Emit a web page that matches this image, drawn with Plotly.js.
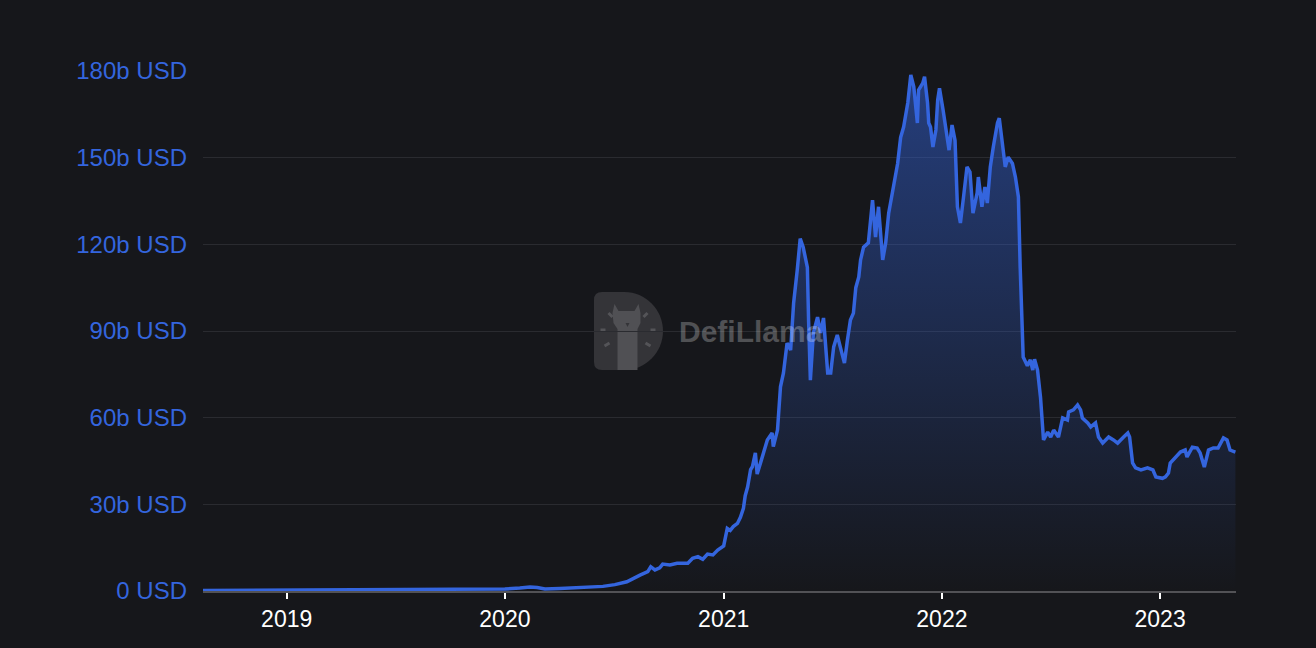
<!DOCTYPE html>
<html>
<head>
<meta charset="utf-8">
<script src="https://cdn.plot.ly/plotly-3.0.1.min.js"></script>
<style>
  html, body { margin: 0; padding: 0; background: #16171b; }
  #chart { width: 1316px; height: 648px; }
</style>
</head>
<body>
<div id="chart"></div>
<script>
// Total value locked (billions of USD)
const dates = [
  "2018-08-14","2018-10-23","2019-01-01","2019-03-14","2019-05-21","2019-07-10","2019-09-14","2019-11-04",
  "2020-01-01","2020-01-26","2020-02-12","2020-02-24","2020-03-08","2020-04-02","2020-05-05","2020-06-13",
  "2020-07-03","2020-07-23","2020-08-14","2020-08-27","2020-09-01","2020-09-08","2020-09-16","2020-09-21",
  "2020-10-03","2020-10-15","2020-11-02","2020-11-10","2020-11-19","2020-11-27","2020-12-05","2020-12-14",
  "2020-12-22","2021-01-01","2021-01-07","2021-01-12","2021-01-17","2021-01-24","2021-01-29","2021-02-03",
  "2021-02-06","2021-02-10","2021-02-15","2021-02-18","2021-02-23","2021-02-26","2021-03-05","2021-03-15",
  "2021-03-23","2021-03-25","2021-04-01","2021-04-06","2021-04-11","2021-04-17","2021-04-23","2021-04-28",
  "2021-05-04","2021-05-09","2021-05-14","2021-05-21","2021-05-23","2021-05-26","2021-05-31","2021-06-07",
  "2021-06-12","2021-06-17","2021-06-24","2021-06-29","2021-07-04","2021-07-10","2021-07-15","2021-07-22",
  "2021-07-27","2021-08-01","2021-08-06","2021-08-10","2021-08-15","2021-08-18","2021-08-23","2021-08-31",
  "2021-09-07","2021-09-09","2021-09-12","2021-09-17","2021-09-24","2021-09-29","2021-10-04","2021-10-11",
  "2021-10-19","2021-10-24","2021-10-29","2021-11-05","2021-11-10","2021-11-15","2021-11-21","2021-11-23",
  "2021-11-30","2021-12-03","2021-12-08","2021-12-10","2021-12-13","2021-12-17","2021-12-22","2021-12-25",
  "2021-12-28","2022-01-03","2022-01-10","2022-01-13","2022-01-18","2022-01-23","2022-01-27","2022-02-01",
  "2022-02-06","2022-02-12","2022-02-17","2022-02-22","2022-03-01","2022-03-03","2022-03-09","2022-03-14",
  "2022-03-18","2022-03-23","2022-03-28","2022-04-04","2022-04-07","2022-04-12","2022-04-17","2022-04-22",
  "2022-04-29","2022-05-04","2022-05-09","2022-05-12","2022-05-16","2022-05-17","2022-05-24","2022-05-29",
  "2022-06-02","2022-06-05","2022-06-10","2022-06-15","2022-06-20","2022-06-27","2022-07-02","2022-07-07",
  "2022-07-15","2022-07-22","2022-07-30","2022-08-01","2022-08-09","2022-08-16","2022-08-21","2022-08-24",
  "2022-09-02","2022-09-07","2022-09-15","2022-09-20","2022-09-27","2022-10-07","2022-10-15","2022-10-22",
  "2022-11-01","2022-11-08","2022-11-11","2022-11-16","2022-11-21","2022-11-30","2022-12-11","2022-12-20",
  "2022-12-25","2023-01-05","2023-01-10","2023-01-15","2023-01-18","2023-01-26","2023-02-04","2023-02-12",
  "2023-02-15","2023-02-24","2023-03-04","2023-03-09","2023-03-16","2023-03-23","2023-03-31","2023-04-08",
  "2023-04-17","2023-04-23","2023-04-28","2023-05-07"
];
const tvlBillions = [
  0.2,0.25,0.3,0.4,0.55,0.6,0.6,0.65,
  0.7,1.0,1.4,1.2,0.7,0.9,1.1,1.6,
  2.2,3.2,5.5,6.7,8.4,7.3,8.0,9.3,
  9.0,9.6,9.6,11.3,11.9,11.0,12.8,12.5,
  14.2,15.6,21.7,21.0,22.3,23.4,25.5,28.6,
  33,36,42,43,47.8,40.5,45.3,52.3,
  54.7,50,55.7,70.7,75.5,85.8,83.4,99.7,
  111,122,119,112,93.8,73,89.3,94.8,
  89.3,94.5,75.5,75.5,84.5,88.6,84.5,78.9,
  86.9,93.8,96.2,105,108.7,114.6,119,120.5,
  135.3,129.5,122.5,133,114.6,120.5,130.8,138.8,
  148,157,160.6,169,178.6,174.5,162,173.4,
  175.8,178,169,162,160.6,153.7,159.6,170,
  174,166.5,157,152.6,161.3,156,133,127.4,
  136,146.8,145,130.8,137.8,143.3,133,139.8,
  134.3,146.8,153.7,162,163.7,156,146.8,150.2,
  148,143.3,136.4,112,89.3,81,78,80,
  76.5,80.2,76.5,67,52.3,55,53.3,55.7,
  53.3,59.9,59.2,62,62.7,64.4,62.7,59.9,
  58.2,56.8,58.2,53.3,51.2,53.3,52.3,51.2,
  53.3,54.7,53.3,44.3,42.6,41.9,42.6,41.9,
  39.5,39,39.5,40.8,44.3,46,48.1,48.8,
  46.4,49.8,49.5,47.8,42.9,48.8,49.5,49.5,
  53,52.3,48.8,48.1
];
const yTickValues = [0, 30, 60, 90, 120, 150, 180];
const yTickLabels = ["0 USD", "30b USD", "60b USD", "90b USD", "120b USD", "150b USD", "180b USD"];
const xTickValues = ["2019-01-01", "2020-01-01", "2021-01-01", "2022-01-01", "2023-01-01"];
const xTickLabels = ["2019", "2020", "2021", "2022", "2023"];
const xRange = ["2018-08-14", "2023-05-08"];

const BLUE = "#3465de";
const BG = "#16171b";
const FONT = "Liberation Sans, Arial, Helvetica, sans-serif";

const trace = {
  type: "scatter",
  mode: "lines",
  x: dates,
  y: tvlBillions,
  line: { color: BLUE, width: 3.5 },
  fill: "tozeroy",
  fillgradient: {
    type: "vertical",
    colorscale: [[0, "rgba(52,101,222,0)"], [1, "rgba(52,101,222,0.5)"]]
  },
  hoverinfo: "x+y"
};

// DefiLlama watermark logo (pixel-sized shapes anchored in paper space)
const logoX = 0.4119, logoY = 0.5;
function logoShape(path, color) {
  return {
    type: "path", xref: "paper", yref: "paper",
    xsizemode: "pixel", ysizemode: "pixel",
    xanchor: logoX, yanchor: logoY,
    path: path, fillcolor: color, line: { width: 0 }, layer: "below"
  };
}
function rayShape(x0, y0, x1, y1) {
  return {
    type: "line", xref: "paper", yref: "paper",
    xsizemode: "pixel", ysizemode: "pixel",
    xanchor: logoX, yanchor: logoY,
    x0: x0, y0: y0, x1: x1, y1: y1,
    line: { color: "rgb(84,84,88)", width: 3 }, layer: "below"
  };
}
const shapes = [
  logoShape("M -26.5 39 L -4 39 C 17 39 34.5 21.5 34.5 0 C 34.5 -21.5 17 -39 -4 -39 L -26.5 -39 Q -34.5 -39 -34.5 -31 L -34.5 31 Q -34.5 39 -26.5 39 Z", "rgb(52,52,56)"),
  logoShape("M -11 -39 L -11 2 L -15 8 L -16 18 L -14 27 L -10 20 L 6 20 L 10 27 L 12 18 L 12 8 L 9 2 L 9 -39 Z", "rgb(80,80,84)"),
  logoShape("M -3 8 L 1 8 L -1 4 Z", "rgb(52,52,56)"),
  rayShape(-28, 1, -23, 1),
  rayShape(-24, -15, -19, -12),
  rayShape(-20, 18, -16, 14),
  rayShape(22, 1, 27, 1),
  rayShape(17, -12, 22, -15),
  rayShape(15, 14, 19, 18)
];

const layout = {
  width: 1316,
  height: 648,
  paper_bgcolor: BG,
  plot_bgcolor: BG,
  margin: { l: 203, r: 80, t: 71, b: 57, pad: 0 },
  showlegend: false,
  font: { family: FONT },
  xaxis: {
    type: "date",
    range: xRange,
    tickmode: "array",
    tickvals: xTickValues,
    ticktext: xTickLabels,
    showgrid: false,
    zeroline: false,
    showline: true,
    linecolor: "rgb(82,82,86)",
    linewidth: 2,
    ticks: "outside",
    tickcolor: "#ffffff",
    ticklen: 6,
    tickwidth: 2,
    tickfont: { color: "#ffffff", size: 23, family: FONT },
    layer: "below traces",
    fixedrange: true
  },
  yaxis: {
    range: [0, 180],
    tickmode: "array",
    tickvals: yTickValues,
    ticktext: yTickLabels,
    showgrid: true,
    gridcolor: "rgb(42,43,48)",
    gridwidth: 1,
    zeroline: false,
    showline: false,
    ticks: "",
    ticklabelstandoff: 15,
    tickfont: { color: BLUE, size: 24, family: FONT },
    fixedrange: true
  },
  shapes: shapes,
  annotations: [{
    xref: "paper", yref: "paper",
    x: (677 - 203) / 1033, y: 0.5,
    xanchor: "left", yanchor: "middle",
    text: "<b>DefiLlama</b>",
    showarrow: false,
    font: { family: FONT, size: 30, color: "rgba(255,255,255,0.26)" }
  }]
};

Plotly.newPlot("chart", [trace], layout, { displayModeBar: false, staticPlot: true });
</script>
</body>
</html>
